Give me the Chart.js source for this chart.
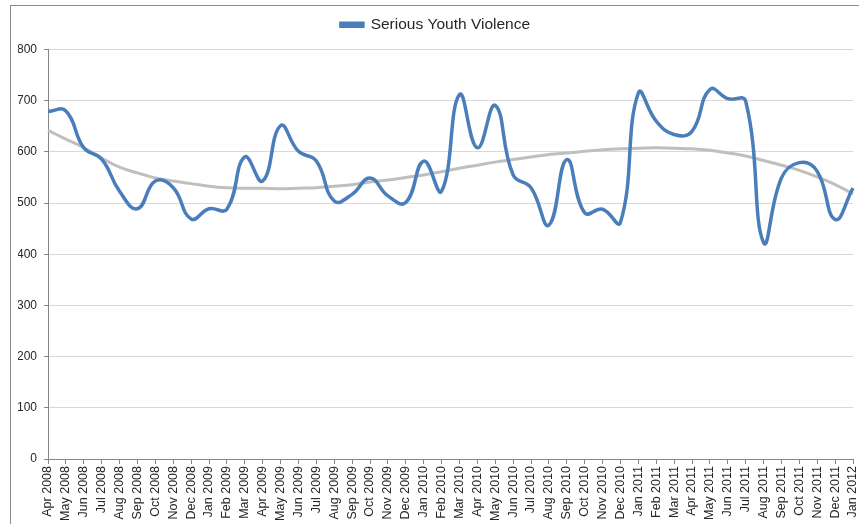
<!DOCTYPE html>
<html>
<head>
<meta charset="utf-8">
<script src="https://cdn.jsdelivr.net/npm/chart.js@4/dist/chart.umd.min.js"></script>
<style>
  html, body { margin: 0; padding: 0; background: #fff; }
  #wrap { position: relative; width: 859px; height: 524px; overflow: hidden; }
  #frame { position: absolute; left: 10px; top: 5px; width: 900px; height: 600px;
           border: 1px solid #8c8c8c; box-sizing: border-box; pointer-events: none; }
  canvas { position: absolute; left: 0; top: 0; }
</style>
</head>
<body>
<div id="wrap">
  <div id="frame"></div>
  <canvas id="chart" width="859" height="524"></canvas>
</div>
<script>
// Monthly counts, April 2008 – January 2012
const months = [
  'Apr 2008','May 2008','Jun 2008','Jul 2008','Aug 2008','Sep 2008','Oct 2008','Nov 2008','Dec 2008',
  'Jan 2009','Feb 2009','Mar 2009','Apr 2009','May 2009','Jun 2009','Jul 2009','Aug 2009','Sep 2009',
  'Oct 2009','Nov 2009','Dec 2009','Jan 2010','Feb 2010','Mar 2010','Apr 2010','May 2010','Jun 2010',
  'Jul 2010','Aug 2010','Sep 2010','Oct 2010','Nov 2010','Dec 2010','Jan 2011','Feb 2011','Mar 2011',
  'Apr 2011','May 2011','Jun 2011','Jul 2011','Aug 2011','Sep 2011','Oct 2011','Nov 2011','Dec 2011',
  'Jan 2012'
];

const seriousYouthViolence = [
  679, 680, 608, 586, 523, 489, 543, 530, 469,
  489, 488, 590, 543, 651, 601, 582, 504, 517,
  549, 514, 501, 582, 523, 712, 608, 691, 555,
  530, 457, 585, 481, 488, 462, 715, 660, 634,
  640, 722, 704, 699, 423, 549, 579, 562, 468,
  529
];

// Smoothed trend line values
const trend = [
  642, 625, 608, 588, 570, 559, 549, 543, 538,
  533, 530, 529, 529, 528, 529, 530, 533, 536,
  541, 545, 550, 555, 561, 568, 574, 580, 585,
  590, 595, 598, 601, 604, 606, 607, 608, 607,
  606, 603, 598, 592, 583, 574, 564, 551, 536,
  518
];

const yTicks = [0, 100, 200, 300, 400, 500, 600, 700, 800];

const FONT = '"Liberation Sans", Arial, sans-serif';
const TEXT = '#262626';

// Extra gap between the legend and the plot area
const legendGap = {
  id: 'legendGap',
  beforeInit(chart) {
    const origFit = chart.legend.fit;
    chart.legend.fit = function () {
      origFit.call(this);
      this.height += 7;
    };
  }
};

new Chart(document.getElementById('chart'), {
  type: 'line',
  data: {
    labels: months,
    datasets: [
      {
        label: 'Serious Youth Violence',
        data: seriousYouthViolence,
        borderColor: '#4a7ebb',
        backgroundColor: '#4a7ebb',
        borderWidth: 3.5,
        tension: 0.45,
        pointRadius: 0,
        order: 0
      },
      {
        label: 'Trend',
        data: trend,
        borderColor: '#bfbfbf',
        backgroundColor: '#bfbfbf',
        borderWidth: 3,
        tension: 0.4,
        pointRadius: 0,
        order: 1
      }
    ]
  },
  plugins: [legendGap],
  options: {
    responsive: false,
    animation: false,
    layout: { padding: { top: 9, right: 6, left: 18, bottom: 0 } },
    plugins: {
      tooltip: { enabled: false },
      legend: {
        position: 'top',
        labels: {
          filter: (item) => item.datasetIndex === 0,
          boxWidth: 22,
          boxHeight: 3,
          padding: 8,
          color: TEXT,
          font: { family: FONT, size: 15.5 }
        }
      }
    },
    scales: {
      x: {
        offset: false,
        grid: { display: true, drawOnChartArea: false, drawTicks: true, tickLength: 5, color: '#868686' },
        border: { display: true, color: '#868686', width: 1 },
        ticks: {
          autoSkip: false, maxRotation: 90, minRotation: 90, padding: 2,
          color: TEXT, font: { family: FONT, size: 12.5 }
        },
        afterFit: (scale) => {
          scale.height = 65;
          scale.paddingLeft = 0;
          scale.paddingRight = 0;
        }
      },
      y: {
        min: 0, max: 800,
        afterBuildTicks: (scale) => { scale.ticks = yTicks.map(v => ({ value: v })); },
        grid: { color: '#d9d9d9', lineWidth: 1, tickLength: 4, tickColor: '#868686' },
        border: { display: true, color: '#868686', width: 1 },
        ticks: { padding: 7, color: TEXT, font: { family: FONT, size: 12 } },
        afterFit: (scale) => { scale.width = 30; }
      }
    }
  }
});
</script>
</body>
</html>
